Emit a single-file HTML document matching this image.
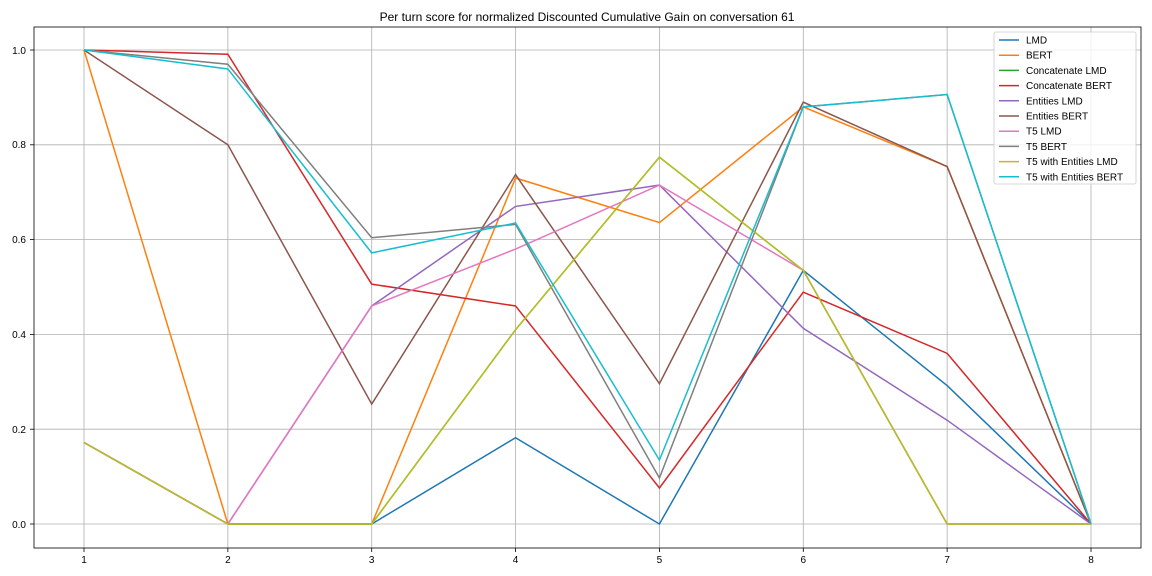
<!DOCTYPE html>
<html><head><meta charset="utf-8"><style>
body{margin:0;background:#fff;}
svg{display:block;font-family:"Liberation Sans","DejaVu Sans",sans-serif;}
</style></head><body>
<svg width="1152" height="576" viewBox="0 0 1152 576" xmlns="http://www.w3.org/2000/svg">
<rect width="1152" height="576" fill="#fff"/>
<text x="587" y="21" font-size="12" text-anchor="middle" fill="#000">Per turn score for normalized Discounted Cumulative Gain on conversation 61</text>
<g stroke="#b0b0b0" stroke-width="0.8">
<line x1="84" y1="27" x2="84" y2="548"/><line x1="227.86" y1="27" x2="227.86" y2="548"/><line x1="371.71" y1="27" x2="371.71" y2="548"/><line x1="515.57" y1="27" x2="515.57" y2="548"/><line x1="659.43" y1="27" x2="659.43" y2="548"/><line x1="803.29" y1="27" x2="803.29" y2="548"/><line x1="947.14" y1="27" x2="947.14" y2="548"/><line x1="1091" y1="27" x2="1091" y2="548"/>
<line x1="34" y1="524" x2="1141" y2="524"/><line x1="34" y1="429.2" x2="1141" y2="429.2"/><line x1="34" y1="334.4" x2="1141" y2="334.4"/><line x1="34" y1="239.6" x2="1141" y2="239.6"/><line x1="34" y1="144.8" x2="1141" y2="144.8"/><line x1="34" y1="50" x2="1141" y2="50"/>
</g>
<g stroke="#000" stroke-width="0.8">
<line x1="30" y1="524" x2="34" y2="524"/><line x1="30" y1="429.2" x2="34" y2="429.2"/><line x1="30" y1="334.4" x2="34" y2="334.4"/><line x1="30" y1="239.6" x2="34" y2="239.6"/><line x1="30" y1="144.8" x2="34" y2="144.8"/><line x1="30" y1="50" x2="34" y2="50"/>
<line x1="84" y1="548" x2="84" y2="552"/><line x1="227.86" y1="548" x2="227.86" y2="552"/><line x1="371.71" y1="548" x2="371.71" y2="552"/><line x1="515.57" y1="548" x2="515.57" y2="552"/><line x1="659.43" y1="548" x2="659.43" y2="552"/><line x1="803.29" y1="548" x2="803.29" y2="552"/><line x1="947.14" y1="548" x2="947.14" y2="552"/><line x1="1091" y1="548" x2="1091" y2="552"/>
</g>
<g font-size="10" fill="#000" text-anchor="end">
<text x="26" y="528">0.0</text><text x="26" y="433">0.2</text><text x="26" y="338">0.4</text><text x="26" y="243">0.6</text><text x="26" y="148">0.8</text><text x="26" y="54">1.0</text>
</g>
<g font-size="10" fill="#000" text-anchor="middle">
<text x="84" y="563">1</text><text x="227.86" y="563">2</text><text x="371.71" y="563">3</text><text x="515.57" y="563">4</text><text x="659.43" y="563">5</text><text x="803.29" y="563">6</text><text x="947.14" y="563">7</text><text x="1091" y="563">8</text>
</g>
<g transform="translate(84,524) scale(143.857,-474)" fill="none" stroke-width="1.5">
<polyline vector-effect="non-scaling-stroke" stroke="#1f77b4" points="0,0.172 1,0 2,0 3,0.182 4,0 5,0.535 6,0.292 7,0"/>
<polyline vector-effect="non-scaling-stroke" stroke="#ff7f0e" points="0,1 1,0 2,0 3,0.73 4,0.636 5,0.88 6,0.754 7,0"/>
<polyline vector-effect="non-scaling-stroke" stroke="#2ca02c" points="0,0.172 1,0 2,0 3,0.41 4,0.774 5,0.535 6,0 7,0"/>
<polyline vector-effect="non-scaling-stroke" stroke="#d62728" points="0,1 1,0.991 2,0.506 3,0.46 4,0.076 5,0.489 6,0.36 7,0"/>
<polyline vector-effect="non-scaling-stroke" stroke="#9467bd" points="0,0.172 1,0 2,0.46 3,0.67 4,0.715 5,0.413 6,0.219 7,0"/>
<polyline vector-effect="non-scaling-stroke" stroke="#8c564b" points="0,1 1,0.8 2,0.253 3,0.737 4,0.296 5,0.89 6,0.754 7,0"/>
<polyline vector-effect="non-scaling-stroke" stroke="#e377c2" points="0,0.172 1,0 2,0.46 3,0.58 4,0.715 5,0.535 6,0 7,0"/>
<polyline vector-effect="non-scaling-stroke" stroke="#7f7f7f" points="0,1 1,0.97 2,0.604 3,0.632 4,0.097 5,0.88 6,0.906 7,0"/>
<polyline vector-effect="non-scaling-stroke" stroke="#bcbd22" points="0,0.172 1,0 2,0 3,0.41 4,0.774 5,0.535 6,0 7,0"/>
<polyline vector-effect="non-scaling-stroke" stroke="#17becf" points="0,1 1,0.96 2,0.572 3,0.635 4,0.135 5,0.88 6,0.906 7,0"/>
</g>
<rect x="34" y="27" width="1107" height="521" fill="none" stroke="#000" stroke-width="0.8"/>
<rect x="994" y="32" width="142" height="152" rx="2" fill="#fff" fill-opacity="0.8" stroke="#ccc" stroke-width="0.8"/>
<g stroke-width="1.5">
<line x1="999" y1="40" x2="1019" y2="40" stroke="#1f77b4"/>
<line x1="999" y1="55.2" x2="1019" y2="55.2" stroke="#ff7f0e"/>
<line x1="999" y1="70.4" x2="1019" y2="70.4" stroke="#2ca02c"/>
<line x1="999" y1="85.6" x2="1019" y2="85.6" stroke="#d62728"/>
<line x1="999" y1="100.8" x2="1019" y2="100.8" stroke="#9467bd"/>
<line x1="999" y1="116" x2="1019" y2="116" stroke="#8c564b"/>
<line x1="999" y1="131.2" x2="1019" y2="131.2" stroke="#e377c2"/>
<line x1="999" y1="146.4" x2="1019" y2="146.4" stroke="#7f7f7f"/>
<line x1="999" y1="161.6" x2="1019" y2="161.6" stroke="#bcbd22"/>
<line x1="999" y1="176.8" x2="1019" y2="176.8" stroke="#17becf"/>
</g>
<g font-size="10" fill="#000">
<text x="1026" y="43.5">LMD</text>
<text x="1026" y="58.7">BERT</text>
<text x="1026" y="73.9">Concatenate LMD</text>
<text x="1026" y="89.1">Concatenate BERT</text>
<text x="1026" y="104.3">Entities LMD</text>
<text x="1026" y="119.5">Entities BERT</text>
<text x="1026" y="134.7">T5 LMD</text>
<text x="1026" y="149.9">T5 BERT</text>
<text x="1026" y="165.1">T5 with Entities LMD</text>
<text x="1026" y="180.3">T5 with Entities BERT</text>
</g>
</svg>
</body></html>
